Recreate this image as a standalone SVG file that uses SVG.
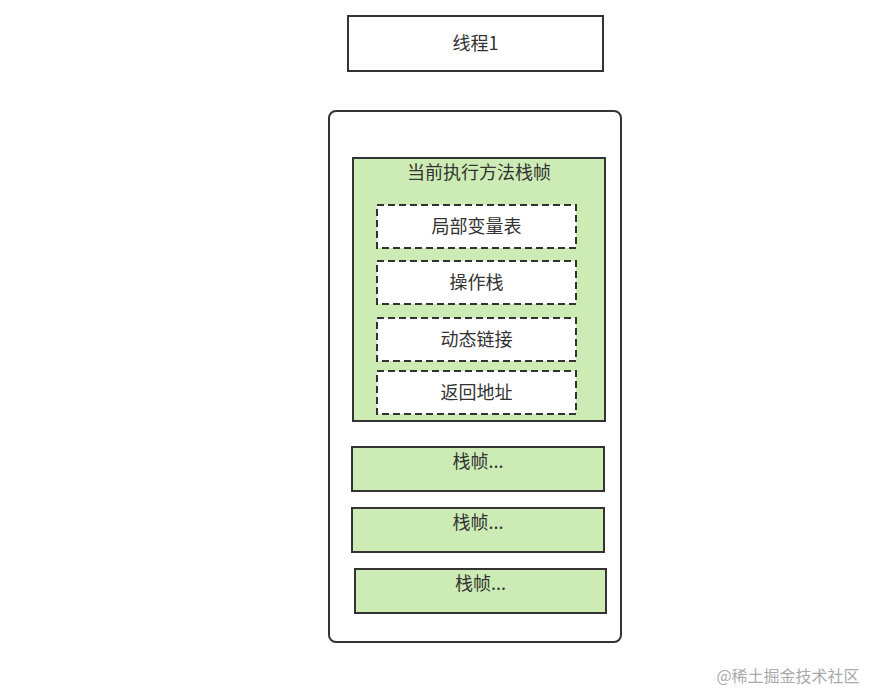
<svg xmlns="http://www.w3.org/2000/svg" width="874" height="692" viewBox="0 0 874 692">
<style>
text{font-family:"Noto Sans CJK SC","Liberation Sans",sans-serif;font-size:18px;fill:#333;text-anchor:middle}
.box{fill:#fff;stroke:#333;stroke-width:2}
.green{fill:#cdebb5;stroke:#333;stroke-width:2}
.dash{fill:#fff;stroke:#333;stroke-width:2;stroke-dasharray:7,4}
</style>
<rect width="874" height="692" fill="#fff"/>
<g id="thread"><rect class="box" x="348" y="16" width="255" height="55"/><text x="475.5" y="50">线程1</text></g>
<g id="stack"><rect class="box" x="329" y="111" width="292" height="531" rx="7"/></g>
<g id="current"><rect class="green" x="353" y="158" width="252" height="263"/><text x="479" y="179">当前执行方法栈帧</text></g>
<g id="locals"><rect class="dash" x="377" y="205" width="199" height="43"/><text x="476.5" y="233">局部变量表</text></g>
<g id="operand"><rect class="dash" x="377" y="261" width="199" height="43"/><text x="476.5" y="289">操作栈</text></g>
<g id="dynlink"><rect class="dash" x="377" y="318" width="199" height="43"/><text x="476.5" y="346">动态链接</text></g>
<g id="ret"><rect class="dash" x="377" y="371" width="199" height="43"/><text x="476.5" y="399">返回地址</text></g>
<g id="f1"><rect class="green" x="352" y="447" width="252" height="44"/><text x="478" y="468">栈帧...</text></g>
<g id="f2"><rect class="green" x="352" y="508" width="252" height="44"/><text x="478" y="529">栈帧...</text></g>
<g id="f3"><rect class="green" x="355" y="569" width="251" height="44"/><text x="480.5" y="590">栈帧...</text></g>
<g id="connectors"></g>
<text x="788" y="682" style="font-size:16px;fill:#aaa">@稀土掘金技术社区</text>
</svg>
